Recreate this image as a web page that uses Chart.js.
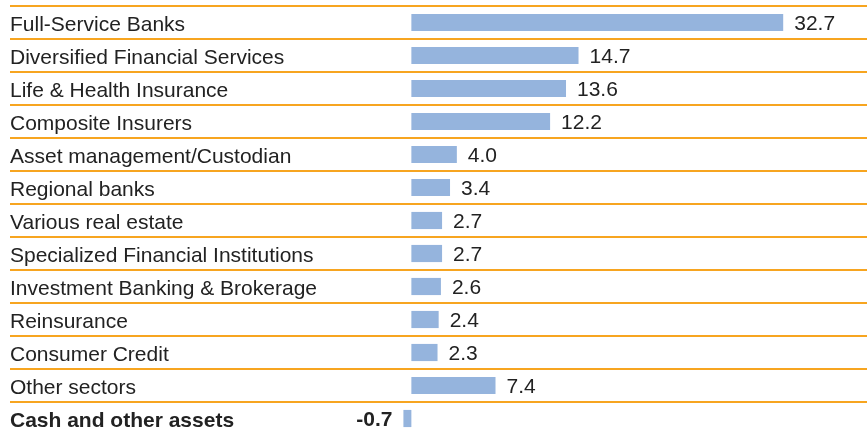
<!DOCTYPE html>
<html>
<head>
<meta charset="utf-8">
<script src="https://cdn.jsdelivr.net/npm/chart.js@4/dist/chart.umd.min.js"></script>
<style>
    html, body { margin: 0; padding: 0; background: #fff; overflow: hidden; }
    #wrap { width: 867px; height: 441px; }
</style>
</head>
<body>
<div id="wrap"><canvas id="sectorChart" width="867" height="441"></canvas></div>
<script>
const sectors = [
    'Full-Service Banks',
    'Diversified Financial Services',
    'Life & Health Insurance',
    'Composite Insurers',
    'Asset management/Custodian',
    'Regional banks',
    'Various real estate',
    'Specialized Financial Institutions',
    'Investment Banking & Brokerage',
    'Reinsurance',
    'Consumer Credit',
    'Other sectors',
    'Cash and other assets'
];
const weights = [32.7, 14.7, 13.6, 12.2, 4.0, 3.4, 2.7, 2.7, 2.6, 2.4, 2.3, 7.4, -0.7];
const boldRows = [12];

const FONT = "'Liberation Sans', Arial, sans-serif";
const FONT_SIZE = 21;
const TEXT_COLOR = '#222222';
const LINE_COLOR = '#f7a520';

// value labels next to each bar
const valueLabels = {
    id: 'valueLabels',
    afterDatasetsDraw(chart) {
        const ctx = chart.ctx;
        const meta = chart.getDatasetMeta(0);
        ctx.save();
        ctx.fillStyle = TEXT_COLOR;
        ctx.textBaseline = 'middle';
        meta.data.forEach((bar, i) => {
            const v = weights[i];
            const bold = boldRows.includes(i);
            ctx.font = (bold ? 'bold ' : '') + FONT_SIZE + 'px ' + FONT;
            if (v >= 0) {
                ctx.textAlign = 'left';
                ctx.fillText(v.toFixed(1), bar.x + 11, bar.y + 1.5);
            } else {
                ctx.textAlign = 'right';
                ctx.fillText(v.toFixed(1), bar.x - 11, bar.y + 1.5);
            }
        });
        ctx.restore();
    }
};

new Chart(document.getElementById('sectorChart'), {
    type: 'bar',
    data: {
        labels: sectors,
        datasets: [{
            data: weights,
            backgroundColor: '#95b4dd',
            borderWidth: 0,
            barPercentage: 0.52,
            categoryPercentage: 1
        }]
    },
    options: {
        indexAxis: 'y',
        responsive: false,
        animation: false,
        devicePixelRatio: 1,
        layout: { padding: { top: 6, bottom: 6, left: 10, right: 0 } },
        scales: {
            x: {
                display: false,
                min: -1,
                max: 40.07
            },
            y: {
                border: { display: false },
                grid: {
                    color: LINE_COLOR,
                    lineWidth: 2,
                    drawTicks: true,
                    tickLength: 390,
                    offset: true
                },
                ticks: {
                    color: TEXT_COLOR,
                    crossAlign: 'far',
                    padding: 0,
                    labelOffset: 2.5,
                    autoSkip: false,
                    font: (c) => ({
                        family: FONT,
                        size: FONT_SIZE,
                        weight: boldRows.includes(c.index) ? 'bold' : 'normal'
                    })
                },
                afterFit(scale) {
                    scale.width = 390;
                    scale.paddingTop = 0;
                    scale.paddingBottom = 0;
                }
            }
        },
        plugins: {
            legend: { display: false },
            tooltip: { enabled: false }
        }
    },
    plugins: [valueLabels]
});
</script>
</body>
</html>
